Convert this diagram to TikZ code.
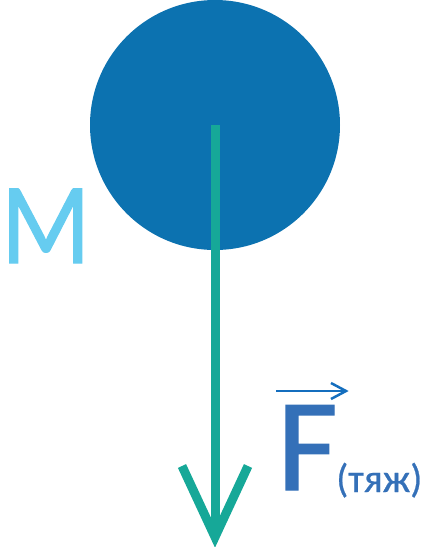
\documentclass[tikz,border=0pt]{standalone}
\usepackage{fontspec}
\setmainfont{Carlito}
\newfontfamily\medfont[FakeBold=1]{Carlito}
\newfontfamily\smallmed[FakeBold=0.6]{Carlito}
\definecolor{ballblue}{RGB}{12,114,176}
\definecolor{teal1}{RGB}{22,168,152}
\definecolor{mblue}{RGB}{102,204,240}
\definecolor{fblue}{RGB}{52,112,184}
\definecolor{vecblue}{RGB}{20,110,190}
\begin{document}
\begin{tikzpicture}[x=1pt,y=-1pt,
  force/.style={draw=teal1,line width=9pt},
  lbl/.style={inner sep=0pt,anchor=base west}]
\useasboundingbox (0,0) rectangle (427,547);
\fill[ballblue] (215,125) circle[radius=125];
\coordinate (c) at (215,125);
\coordinate (tip) at (215,537);
\coordinate (la) at (182,466);
\coordinate (ra) at (248,466);
\draw[force] (c) -- (215,533);
\draw[force,miter limit=10] (la) -- (tip) -- (ra);
\node[lbl,text=mblue,font=\medfont\fontsize{116}{116}\selectfont,xscale=0.9] (m) at (1,263) {M};
\node[lbl,text=fblue,font=\medfont\fontsize{132}{132}\selectfont] (f) at (277,490) {F};
\node[lbl,text=fblue,font=\smallmed\fontsize{40}{40}\selectfont] (t) at (336,492) {(тяж)};
\coordinate (v1) at (276,391);
\coordinate (v2) at (346,391);
\draw[vecblue,line width=2.5pt] (v1) -- (v2);
\draw[vecblue,line width=2.5pt] (331,383) -- (v2) -- (331,399);
\end{tikzpicture}
\end{document}
